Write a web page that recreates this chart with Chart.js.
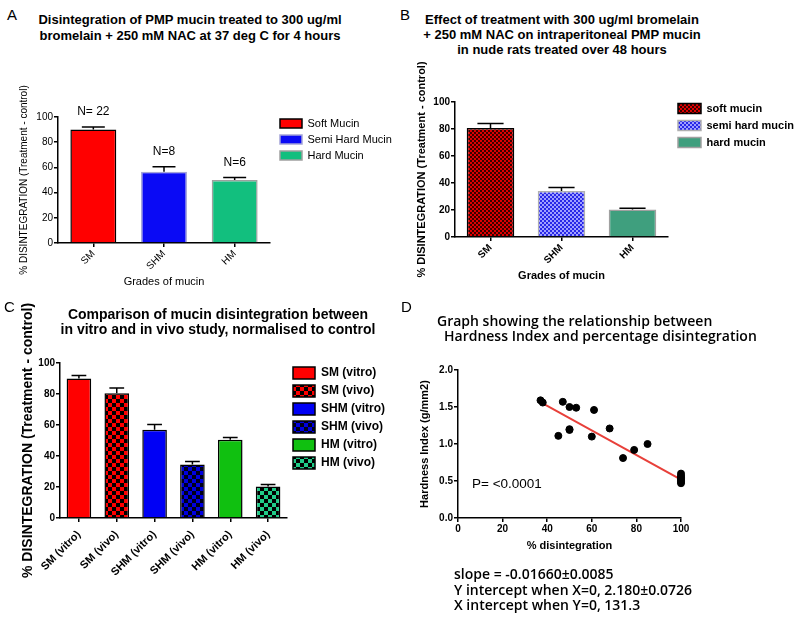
<!DOCTYPE html>
<html>
<head>
<meta charset="utf-8">
<script src="https://cdn.jsdelivr.net/npm/chart.js@4.4.1/dist/chart.umd.min.js"></script>
<style>
  body { margin: 0; background: #fff; }
  #fig { position: relative; width: 800px; height: 619px; background: #fff; overflow: hidden; }
  #fig canvas { position: absolute; }
  .txt { position: absolute; color: #000; white-space: nowrap; z-index: 2; }
  .letter { font: 15px "Liberation Sans", Arial, sans-serif; }
  .ttl { font-family: "Liberation Sans", Arial, sans-serif; font-weight: bold; text-align: center; }
  .dtxt { font-family: "Open Sans", sans-serif; font-weight: 600; font-size: 14px; }
</style>
</head>
<body>
<div id="fig">
  <canvas id="chartA" width="400" height="240" style="left:0;top:60px"></canvas>
  <canvas id="chartB" width="400" height="240" style="left:400px;top:60px"></canvas>
  <canvas id="chartC" width="400" height="324" style="left:0;top:295px"></canvas>
  <canvas id="chartD" width="400" height="230" style="left:400px;top:340px"></canvas>

  <div class="txt letter" style="left:7px;top:6px">A</div>
  <div class="txt letter" style="left:400px;top:6px">B</div>
  <div class="txt letter" style="left:4px;top:298px">C</div>
  <div class="txt letter" style="left:401px;top:298px">D</div>

  <div class="txt ttl" style="left:20px;top:12px;width:340px;font-size:13px;line-height:16px">Disintegration of PMP mucin treated to 300 ug/ml<br>bromelain + 250 mM NAC at 37 deg C for 4 hours</div>
  <div class="txt ttl" style="left:412px;top:12px;width:300px;font-size:13px;line-height:15px">Effect of treatment with 300 ug/ml bromelain<br>+ 250 mM NAC on intraperitoneal PMP mucin<br>in nude rats treated over 48 hours</div>
  <div class="txt ttl" style="left:40px;top:307px;width:356px;font-size:14px;line-height:15px">Comparison of mucin disintegration between<br>in vitro and in vivo study, normalised to control</div>
  <div class="txt dtxt" style="left:437px;top:314px;line-height:14.5px">Graph showing the relationship between<br><span style="padding-left:7px">Hardness Index and percentage disintegration</span></div>

  <div class="txt" style="left:472px;top:476px;font:13.5px 'Liberation Sans', Arial, sans-serif;line-height:16px">P= &lt;0.0001</div>
  <div class="txt dtxt" style="left:454px;top:566px;line-height:15.5px">slope = -0.01660±0.0085<br>Y intercept when X=0, 2.180±0.0726<br>X intercept when Y=0, 131.3</div>
</div>

<script>
// Panel A: in vitro disintegration
const gradesA = ['SM', 'SHM', 'HM'];
const legendA = ['Soft Mucin', 'Semi Hard Mucin', 'Hard Mucin'];
const disintA = [90, 56.5, 50];
const errA = [2, 4, 2];
const countsA = ['N= 22', 'N=8', 'N=6'];

// Panel B: in vivo (nude rats)
const gradesB = ['SM', 'SHM', 'HM'];
const legendB = ['soft mucin', 'semi hard mucin', 'hard mucin'];
const disintB = [80.7, 34, 20.3];
const errB = [3.3, 2.7, 1];

// Panel C: vitro vs vivo
const groupsC = ['SM (vitro)', 'SM (vivo)', 'SHM (vitro)', 'SHM (vivo)', 'HM (vitro)', 'HM (vivo)'];
const disintC = [90, 80.5, 57, 34.5, 50.5, 20.3];
const errC = [2, 3.3, 3.3, 2, 1.5, 1.3];

// Panel D: hardness index vs % disintegration
const pctD  = [37, 38, 45, 47, 50, 50, 50, 53, 60, 61, 68, 74, 79, 85, 100, 100, 100, 100, 100, 100, 100];
const hardD = [1.59, 1.56, 1.11, 1.57, 1.50, 1.20, 1.19, 1.49, 1.10, 1.46, 1.21, 0.81, 0.92, 1.00, 0.60, 0.57, 0.55, 0.53, 0.51, 0.49, 0.47];
const fitX = [38, 100];
const fitY = [1.55, 0.52];

Chart.defaults.font.family = '"Liberation Sans", Arial, sans-serif';
Chart.defaults.color = '#000';

function checker(size, c1, c2) {
    const off = document.createElement('canvas');
    off.width = off.height = size * 2;
    const g = off.getContext('2d');
    g.fillStyle = c2;
    g.fillRect(0, 0, size * 2, size * 2);
    g.fillStyle = c1;
    g.fillRect(0, 0, size, size);
    g.fillRect(size, size, size, size);
    return g.createPattern(off, 'repeat');
}

// error bars (upper only) + optional labels above them
function errorBars(errors, labels, capRatio, gap) {
    return {
        id: 'errorBars',
        afterDatasetsDraw(chart) {
            const ctx = chart.ctx;
            const y = chart.scales.y;
            const vals = chart.data.datasets[0].data;
            ctx.save();
            ctx.strokeStyle = '#000';
            ctx.lineWidth = 1.5;
            chart.getDatasetMeta(0).data.forEach((bar, i) => {
                const top = y.getPixelForValue(vals[i] + errors[i]);
                const half = bar.width * capRatio / 2;
                ctx.beginPath();
                ctx.moveTo(bar.x, bar.y);
                ctx.lineTo(bar.x, top);
                ctx.moveTo(bar.x - half, top);
                ctx.lineTo(bar.x + half, top);
                ctx.stroke();
                if (labels) {
                    ctx.fillStyle = '#000';
                    ctx.font = '12px "Liberation Sans", Arial, sans-serif';
                    ctx.textAlign = 'center';
                    ctx.textBaseline = 'middle';
                    ctx.fillText(labels[i], bar.x, top - gap);
                }
            });
            ctx.restore();
        }
    };
}

// fixed legend width so the plot area lands where it should, plus a small shift
function legendBox(width, dx, dy) {
    return {
        id: 'legendBox',
        beforeLayout(chart) {
            const lg = chart.legend;
            if (lg && !lg._fixedW) {
                const fit = lg.fit;
                lg.fit = function () { fit.call(this); this.width = width; };
                lg._fixedW = true;
            }
        },
        afterLayout(chart) {
            const lg = chart.legend;
            lg.left += dx; lg.right += dx;
            lg.top += dy; lg.bottom += dy;
        }
    };
}

function barLegend(names) {
    return chart => {
        const ds = chart.data.datasets[0];
        return names.map((t, i) => ({
            text: t,
            fillStyle: ds.backgroundColor[i],
            strokeStyle: ds.borderColor[i],
            lineWidth: 1.5,
            hidden: false,
            index: i,
            fontColor: '#000'
        }));
    };
}

function axisGrid() {
    return { drawOnChartArea: false, offset: false, tickLength: 4, color: '#000', lineWidth: 1.5 };
}

// ---- A
new Chart(document.getElementById('chartA'), {
    type: 'bar',
    data: {
        labels: gradesA,
        datasets: [{
            data: disintA,
            backgroundColor: ['#ff0000', '#0a0af5', '#12bf7e'],
            borderColor: ['#000', '#a4a4d8', '#a0a0a0'],
            borderWidth: 1.5,
            categoryPercentage: 1,
            barPercentage: 0.65
        }]
    },
    options: {
        responsive: false,
        animation: false,
        layout: { padding: { left: 18, top: 57, right: 2, bottom: 10 } },
        plugins: {
            tooltip: { enabled: false },
            legend: {
                position: 'right', align: 'start',
                labels: { boxWidth: 22, boxHeight: 9, padding: 5, font: { size: 11 }, generateLabels: barLegend(legendA) }
            }
        },
        scales: {
            x: {
                grid: axisGrid(),
                border: { color: '#000', width: 1.5 },
                ticks: { minRotation: 45, maxRotation: 45, autoSkip: false, font: { size: 10 }, padding: 1 },
                title: { display: true, text: 'Grades of mucin', font: { size: 11 }, padding: { top: 0, bottom: 1 } },
                afterFit: s => { s.height = 47; }
            },
            y: {
                min: 0, max: 100,
                grid: axisGrid(),
                border: { color: '#000', width: 1.5 },
                ticks: { stepSize: 20, font: { size: 10 }, padding: 1 },
                title: { display: true, text: '% DISINTEGRATION (Treatment - control)', font: { size: 10 }, padding: 0 },
                afterFit: s => { s.width = 40; }
            }
        }
    },
    plugins: [errorBars(errA, countsA, 0.5, 15), legendBox(128, 5, -4)]
});

// ---- B
new Chart(document.getElementById('chartB'), {
    type: 'bar',
    data: {
        labels: gradesB,
        datasets: [{
            data: disintB,
            backgroundColor: [checker(2, '#e00000', '#3a0000'), checker(2, '#2828e8', '#a0a0ff'), '#3f9f7e'],
            borderColor: ['#000', '#b0b0b0', '#a0a0a0'],
            borderWidth: 1.5,
            categoryPercentage: 1,
            barPercentage: 0.67
        }]
    },
    options: {
        responsive: false,
        animation: false,
        layout: { padding: { left: 15, top: 42, right: 2, bottom: 10 } },
        plugins: {
            tooltip: { enabled: false },
            legend: {
                position: 'right', align: 'start',
                labels: { boxWidth: 23, boxHeight: 10, padding: 6, font: { size: 11, weight: 'bold' }, generateLabels: barLegend(legendB) }
            }
        },
        scales: {
            x: {
                grid: axisGrid(),
                border: { color: '#000', width: 1.5 },
                ticks: { minRotation: 45, maxRotation: 45, autoSkip: false, font: { size: 10, weight: 'bold' }, padding: 1 },
                title: { display: true, text: 'Grades of mucin', font: { size: 11, weight: 'bold' }, padding: { top: 0, bottom: 7 } },
                afterFit: s => { s.height = 53; }
            },
            y: {
                min: 0, max: 100,
                grid: axisGrid(),
                border: { color: '#000', width: 1.5 },
                ticks: { stepSize: 20, font: { size: 10, weight: 'bold' }, padding: 1 },
                title: { display: true, text: '% DISINTEGRATION (Treatment - control)', font: { size: 11, weight: 'bold' }, padding: 0 },
                afterFit: s => { s.width = 40; }
            }
        }
    },
    plugins: [errorBars(errB, null, 0.55, 0), legendBox(130, 4, -5)]
});

// ---- C
new Chart(document.getElementById('chartC'), {
    type: 'bar',
    data: {
        labels: groupsC,
        datasets: [{
            data: disintC,
            backgroundColor: [
                '#ff0000', checker(4, '#ff0000', '#000000'),
                '#0000f5', checker(4, '#0000e0', '#00001a'),
                '#10c010', checker(4, '#20cc88', '#000000')
            ],
            borderColor: ['#000', '#000', '#000', '#000', '#000', '#000'],
            borderWidth: 1.5,
            categoryPercentage: 1,
            barPercentage: 0.65
        }]
    },
    options: {
        responsive: false,
        animation: false,
        layout: { padding: { left: 20, top: 68, right: 3, bottom: 11 } },
        plugins: {
            tooltip: { enabled: false },
            legend: {
                position: 'right', align: 'start',
                labels: { boxWidth: 22, boxHeight: 12, padding: 6, font: { size: 12, weight: 'bold' }, generateLabels: barLegend(groupsC) }
            }
        },
        scales: {
            x: {
                grid: axisGrid(),
                border: { color: '#000', width: 1.5 },
                ticks: { minRotation: 45, maxRotation: 45, autoSkip: false, font: { size: 11, weight: 'bold' }, padding: 6 },
                afterFit: s => { s.height = 90; }
            },
            y: {
                min: 0, max: 100,
                grid: axisGrid(),
                border: { color: '#000', width: 1.5 },
                ticks: { stepSize: 20, font: { size: 10, weight: 'bold' }, padding: 1 },
                title: { display: true, text: '% DISINTEGRATION (Treatment - control)', font: { size: 14, weight: 'bold' }, padding: 0 },
                afterFit: s => { s.width = 40; }
            }
        }
    },
    plugins: [errorBars(errC, null, 0.6, 0), legendBox(110, 0, -2)]
});

// ---- D
new Chart(document.getElementById('chartD'), {
    type: 'scatter',
    data: {
        datasets: [{
            type: 'line',
            data: fitX.map((x, i) => ({ x: x, y: fitY[i] })),
            borderColor: '#e8403a',
            borderWidth: 2,
            pointRadius: 0,
            clip: false,
            order: 1
        }, {
            data: pctD.map((x, i) => ({ x: x, y: hardD[i] })),
            backgroundColor: '#000',
            borderColor: '#000',
            pointRadius: 3.5,
            clip: false,
            order: 0
        }]
    },
    options: {
        responsive: false,
        animation: false,
        layout: { padding: { left: 18, top: 30, right: 119, bottom: 12 } },
        plugins: { legend: { display: false }, tooltip: { enabled: false } },
        scales: {
            x: {
                type: 'linear', min: 0, max: 100,
                grid: axisGrid(),
                border: { color: '#000', width: 1.5 },
                ticks: { stepSize: 20, font: { size: 10, weight: 'bold' }, padding: 1 },
                title: { display: true, text: '% disintegration', font: { size: 11, weight: 'bold' }, padding: { top: 2, bottom: 5 } },
                afterFit: s => { s.height = 40; }
            },
            y: {
                min: 0, max: 2,
                grid: axisGrid(),
                border: { color: '#000', width: 1.5 },
                ticks: { stepSize: 0.5, font: { size: 10, weight: 'bold' }, padding: 1, callback: v => v.toFixed(1) },
                title: { display: true, text: 'Hardness Index (g/mm2)', font: { size: 11, weight: 'bold' }, padding: 0 },
                afterFit: s => { s.width = 40; }
            }
        }
    }
});
</script>
</body>
</html>
